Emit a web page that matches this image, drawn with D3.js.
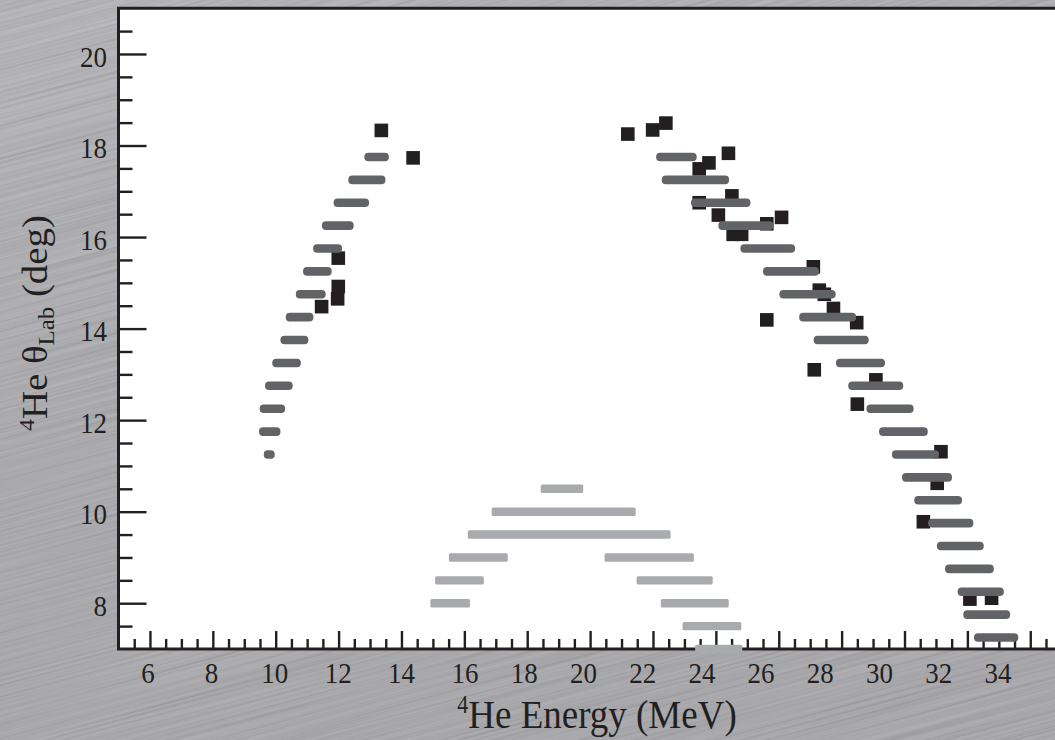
<!DOCTYPE html>
<html>
<head>
<meta charset="utf-8">
<script src="https://cdn.jsdelivr.net/npm/d3@7"></script>
<style>
  html, body { margin: 0; padding: 0; background: #a4a4a8; }
  svg { display: block; }
  text { font-family: 'Liberation Serif', 'DejaVu Serif', serif; fill: #231f20; }
</style>
</head>
<body>
<div id="chart"></div>
<script>
// [angle, energy min, energy max]
let leftBars = [
  [11.25, 9.62, 9.97],
  [11.75, 9.47, 10.15],
  [12.25, 9.49, 10.3],
  [12.75, 9.66, 10.54],
  [13.25, 9.89, 10.8],
  [13.75, 10.15, 11.04],
  [14.25, 10.32, 11.2],
  [14.75, 10.64, 11.59],
  [15.25, 10.87, 11.78],
  [15.75, 11.19, 12.11],
  [16.25, 11.47, 12.48],
  [16.75, 11.84, 12.97],
  [17.25, 12.31, 13.49],
  [17.75, 12.82, 13.6]
]

let rightBars = [
  [7.25, 32.21, 33.62],
  [7.75, 31.87, 33.36],
  [8.25, 31.69, 33.16],
  [8.75, 31.29, 32.84],
  [9.25, 31.03, 32.52],
  [9.75, 30.75, 32.19],
  [10.25, 30.31, 31.83],
  [10.75, 29.92, 31.51],
  [11.25, 29.6, 31.1],
  [11.75, 29.19, 30.74],
  [12.25, 28.79, 30.29],
  [12.75, 28.21, 29.96],
  [13.25, 27.82, 29.38],
  [13.75, 27.11, 28.86],
  [14.25, 26.65, 28.46],
  [14.75, 26.02, 27.81],
  [15.25, 25.5, 27.28],
  [15.75, 24.78, 26.52],
  [16.25, 24.08, 25.83],
  [16.75, 23.21, 25.1],
  [17.25, 22.28, 24.42],
  [17.75, 22.1, 23.39]
]

let lightBars = [
  [10.5, 18.43, 19.78],
  [10.0, 16.87, 21.45],
  [9.5, 16.11, 22.56],
  [9.0, 15.51, 17.38],
  [9.0, 20.46, 23.3],
  [8.5, 15.07, 16.62],
  [8.5, 21.48, 23.9],
  [8.0, 14.92, 16.18],
  [8.0, 22.25, 24.41],
  [7.5, 22.94, 24.81],
  [7.0, 23.34, 24.84]
]

// [energy, angle]
let measured = [
  [13.36, 18.33], [14.37, 17.73], [11.99, 15.54], [11.99, 14.92], [11.97, 14.65], [11.46, 14.48],
  [21.2, 18.25], [21.99, 18.34], [22.41, 18.49], [24.4, 17.83], [23.78, 17.62], [23.47, 17.49],
  [24.51, 16.9], [23.47, 16.75], [24.08, 16.48], [26.09, 16.43], [25.62, 16.29], [24.55, 16.06],
  [24.82, 16.06], [27.1, 15.35], [27.29, 14.84], [27.45, 14.75], [27.74, 14.44], [25.62, 14.19],
  [28.48, 14.13], [27.13, 13.1], [29.09, 12.88], [28.5, 12.35], [31.16, 11.31], [31.04, 10.62],
  [30.6, 9.78], [32.08, 8.09], [32.77, 8.11]
]

let xMajor = d3.range(6, 35, 2)
let xMinor = d3.range(5.5, 35, 0.5).filter(d => d % 2 !== 0)
let yMajor = d3.range(8, 21, 2)
let yMinor = d3.range(7.5, 21, 0.5).filter(d => d % 2 !== 0)

let width = 1055
let height = 740

let svg = d3
  .select('#chart')
  .append('svg')
  .attr('width', width)
  .attr('height', height)

let xPositionScale = d3.scaleLinear().domain([5, 35]).range([118.5, 1061.7])
let yPositionScale = d3.scaleLinear().domain([7, 21]).range([649, 8.2])
// the printed numbers drift left of their ticks past 16
let xLabelScale = d3.scaleLinear().domain([6, 16, 34]).range([148, 465, 998])

// brushed metal backdrop
let defs = svg.append('defs')
let grad = defs
  .append('linearGradient')
  .attr('id', 'bg-grad')
  .attr('x1', 0)
  .attr('y1', 0)
  .attr('x2', 0.5)
  .attr('y2', 1)
grad.append('stop').attr('offset', 0).attr('stop-color', '#b0b0b4')
grad.append('stop').attr('offset', 0.5).attr('stop-color', '#a5a5a9')
grad.append('stop').attr('offset', 1).attr('stop-color', '#a2a2a6')

let filter = defs
  .append('filter')
  .attr('id', 'brush')
  .attr('x', 0)
  .attr('y', 0)
  .attr('width', 1)
  .attr('height', 1)
filter
  .append('feTurbulence')
  .attr('type', 'fractalNoise')
  .attr('baseFrequency', '0.003 0.45')
  .attr('numOctaves', 2)
  .attr('seed', 7)
filter
  .append('feColorMatrix')
  .attr('type', 'matrix')
  .attr('values', '1.3 0 0 0 -0.1  1.3 0 0 0 -0.1  1.3 0 0 0 -0.1  0 0 0 0 0.16')

svg
  .append('rect')
  .attr('width', width)
  .attr('height', height)
  .attr('fill', 'url(#bg-grad)')

svg
  .append('rect')
  .attr('x', -400)
  .attr('y', -500)
  .attr('width', 1900)
  .attr('height', 1700)
  .attr('filter', 'url(#brush)')
  .attr('transform', 'rotate(-15 527 370)')

// plot panel
svg
  .append('rect')
  .attr('x', xPositionScale(5))
  .attr('y', yPositionScale(21))
  .attr('width', xPositionScale(35) - xPositionScale(5))
  .attr('height', yPositionScale(7) - yPositionScale(21))
  .attr('fill', '#ffffff')

function tickAxis(axis, cls, transform) {
  let g = svg
    .append('g')
    .attr('class', cls)
    .attr('transform', transform)
    .attr('color', '#231f20')
    .call(axis)
  g.select('.domain').remove()
  g.selectAll('line').attr('stroke-width', 2.4)
  return g
}

tickAxis(d3.axisBottom(xPositionScale).tickValues(xMinor).tickSize(-10).tickFormat(''), 'x-minor', 'translate(0,' + yPositionScale(7) + ')')
tickAxis(d3.axisBottom(xPositionScale).tickValues(xMajor).tickSize(-18).tickFormat(''), 'x-major', 'translate(0,' + yPositionScale(7) + ')')
tickAxis(d3.axisLeft(yPositionScale).tickValues(yMinor).tickSize(-14).tickFormat(''), 'y-minor', 'translate(' + xPositionScale(5) + ',0)')
tickAxis(d3.axisLeft(yPositionScale).tickValues(yMajor).tickSize(-28).tickFormat(''), 'y-major', 'translate(' + xPositionScale(5) + ',0)')

// frame: left, top, bottom
svg
  .append('path')
  .attr('d',
    'M' + xPositionScale(35) + ',' + yPositionScale(21) +
    'H' + xPositionScale(5) +
    'V' + yPositionScale(7) +
    'H' + xPositionScale(35))
  .attr('fill', 'none')
  .attr('stroke', '#231f20')
  .attr('stroke-width', 3)

// measured points
svg
  .selectAll('.point')
  .data(measured)
  .enter()
  .append('rect')
  .attr('class', 'point')
  .attr('x', d => xPositionScale(d[0]) - 6.8)
  .attr('y', d => yPositionScale(d[1]) - 6.8)
  .attr('width', 13.6)
  .attr('height', 13.6)
  .attr('fill', '#231f20')

// kinematic bands
svg
  .selectAll('.dark-bar')
  .data(leftBars.concat(rightBars))
  .enter()
  .append('rect')
  .attr('class', 'dark-bar')
  .attr('x', d => xPositionScale(d[1]))
  .attr('y', d => yPositionScale(d[0]) - 4.3)
  .attr('width', d => xPositionScale(d[2]) - xPositionScale(d[1]))
  .attr('height', 8.6)
  .attr('rx', 4)
  .attr('ry', 4)
  .attr('fill', '#626366')

svg
  .selectAll('.light-bar')
  .data(lightBars)
  .enter()
  .append('rect')
  .attr('class', 'light-bar')
  .attr('x', d => xPositionScale(d[1]))
  .attr('y', d => yPositionScale(d[0]) - 4.2)
  .attr('width', d => xPositionScale(d[2]) - xPositionScale(d[1]))
  .attr('height', 8.4)
  .attr('rx', 1.5)
  .attr('fill', '#a9aaad')

// tick labels
svg
  .selectAll('.x-label')
  .data(xMajor)
  .enter()
  .append('text')
  .attr('class', 'x-label')
  .attr('transform', d => 'translate(' + xLabelScale(d) + ',683) scale(1,1.12)')
  .attr('text-anchor', 'middle')
  .attr('font-size', 27)
  .text(d => d)

svg
  .selectAll('.y-label')
  .data(yMajor)
  .enter()
  .append('text')
  .attr('class', 'y-label')
  .attr('transform', d => 'translate(107,' + (yPositionScale(d) + 2) + ') scale(1,1.12)')
  .attr('text-anchor', 'end')
  .attr('dy', '0.35em')
  .attr('font-size', 27)
  .text(d => d)

// axis titles
let xTitle = svg
  .append('text')
  .attr('transform', 'translate(597,728) scale(1,1.1)')
  .attr('text-anchor', 'middle')
  .attr('font-size', 37)
xTitle.append('tspan').attr('font-size', 22).attr('dy', -14).text('4')
xTitle.append('tspan').attr('dy', 14).text('He Energy (MeV)')

let yTitle = svg
  .append('text')
  .attr('transform', 'translate(47,323) rotate(-90) scale(1.08,1)')
  .attr('text-anchor', 'middle')
  .attr('font-size', 36)
yTitle.append('tspan').attr('font-size', 22).attr('dy', -13).text('4')
yTitle.append('tspan').attr('dy', 13).text('He θ')
yTitle.append('tspan').attr('font-size', 23).attr('dy', 7).text('Lab')
yTitle.append('tspan').attr('dy', -7).text(' (deg)')
</script>
</body>
</html>
